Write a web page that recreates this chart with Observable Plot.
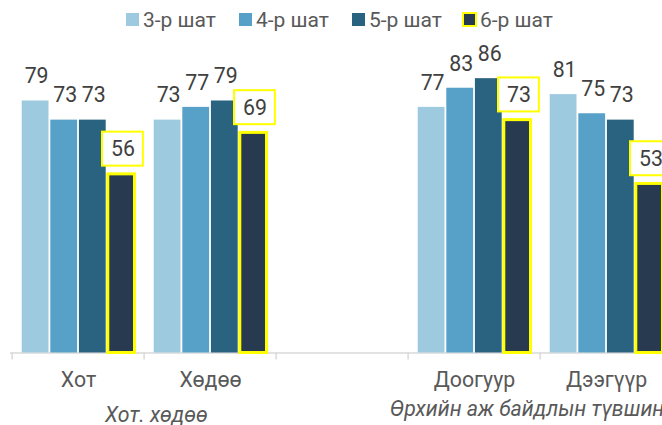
<!DOCTYPE html>
<html>
<head>
<meta charset="utf-8">
<script src="https://cdn.jsdelivr.net/npm/d3@7"></script>
<script src="https://cdn.jsdelivr.net/npm/@observablehq/plot@0.6"></script>
<style>
  html, body { margin: 0; padding: 0; background: #fff; }
  body { width: 662px; height: 425px; overflow: hidden; font-family: Roboto, "Noto Sans", sans-serif; }
  #legend { position: relative; height: 34px; width: 662px; }
  #legend .item { position: absolute; top: 6px; height: 27px; display: flex; align-items: center; font-size: 21px; color: #595959; white-space: nowrap; }
  #legend .sw { display: inline-block; width: 13px; height: 13px; margin-right: 4px; box-sizing: border-box; }
  #chart svg { display: block; }
</style>
</head>
<body>
<div id="legend"></div>
<div id="chart"></div>
<script>
// ---- data ----
const categories = ["Хот", "Хөдөө", "", "Доогуур", "Дээгүүр"];
const seriesNames = ["3-р шат", "4-р шат", "5-р шат", "6-р шат"];
const values3 = [79, 73, null, 77, 81];
const values4 = [73, 77, null, 83, 75];
const values5 = [73, 79, null, 86, 73];
const values6 = [56, 69, null, 73, 53];
const groupLabels = ["Хот. хөдөө", "Өрхийн аж байдлын түвшин"];
const groupFirstCategory = ["Хот", "Доогуур"];

// ---- styles ----
const colors = ["#9ecae0", "#57a1c9", "#2a6380", "#283a50"];
const highlight = "#ffff00";
const textGrey = "#595959";
const labelGrey = "#404040";
const axisGrey = "#d9d9d9";
const FS = 21.3;

const seriesValues = [values3, values4, values5, values6];
const rows = [];
seriesValues.forEach((vals, j) => vals.forEach((v, i) => {
  if (v != null) rows.push({category: categories[i], series: seriesNames[j], value: v});
}));
const bySeries = j => rows.filter(d => d.series === seriesNames[j]);

// ---- legend ----
const legendLefts = [126, 239, 352, 462];
const legend = document.getElementById("legend");
seriesNames.forEach((s, j) => {
  const item = document.createElement("span");
  item.className = "item";
  item.style.left = legendLefts[j] + "px";
  const sw = document.createElement("span");
  sw.className = "sw";
  sw.style.background = colors[j];
  if (j === 3) {
    sw.style.width = "15px"; sw.style.height = "15px";
    sw.style.border = "2.5px solid " + highlight;
    sw.style.marginRight = "3px";
  }
  item.appendChild(sw);
  item.appendChild(document.createTextNode(s));
  legend.appendChild(item);
});

// ---- chart ----
const BAND = 132.8, PAD = 9.2, W = 28.6;
const H = 391;
const baseY = 318.5;

const marks = [
  Plot.ruleY([0], {stroke: axisGrey, strokeWidth: 1.5}),
  Plot.axisX({tickSize: 7, tickFormat: () => "", label: null, dx: -BAND / 2, stroke: axisGrey, strokeWidth: 1.5}),
  Plot.axisX({tickSize: 0, tickPadding: 18.5, label: null, fontSize: FS, fill: textGrey})
];

for (let j = 0; j < 3; j++) {
  marks.push(Plot.barY(bySeries(j), {
    x: "category", y: "value", fill: colors[j],
    insetLeft: PAD + W * j + 0.5,
    insetRight: BAND - PAD - W * (j + 1) + 0.5
  }));
}
// 6-р шат bar with yellow outline
marks.push(Plot.barY(bySeries(3), {
  x: "category", y: "value", fill: colors[3],
  stroke: highlight, strokeWidth: 3,
  insetLeft: PAD + W * 3 + 0.8,
  insetRight: PAD + 0.3
}));
// label boxes for 6-р шат
marks.push(Plot.barY(bySeries(3), {
  x: "category", y1: "value", y2: "value",
  insetTop: -42.2, insetBottom: 8.2,
  insetLeft: 90, insetRight: 1.1,
  fill: "white", stroke: highlight, strokeWidth: 2
}));
// value labels
for (let j = 0; j < 3; j++) {
  marks.push(Plot.text(bySeries(j), {
    x: "category", y: "value", text: d => String(d.value),
    dx: -BAND / 2 + PAD + W * j + W / 2 + 1, dy: -24.5,
    fill: labelGrey, fontSize: FS
  }));
}
marks.push(Plot.text(bySeries(3), {
  x: "category", y: "value", text: d => String(d.value),
  dx: -BAND / 2 + 90 + (BAND - 90 - 1.1) / 2, dy: -25.2,
  fill: labelGrey, fontSize: FS
}));
// group labels
marks.push(Plot.text([groupLabels[0]], {
  x: () => groupFirstCategory[0], text: d => d, frameAnchor: "bottom",
  textAnchor: "start", dx: -BAND / 2 + 93, dy: 69,
  fill: textGrey, fontSize: FS, fontStyle: "italic"
}));
marks.push(Plot.text([groupLabels[1]], {
  x: () => groupFirstCategory[1], text: d => d, frameAnchor: "bottom",
  textAnchor: "start", dx: -BAND / 2 - 18, dy: 62.5,
  fill: textGrey, fontSize: FS, fontStyle: "italic"
}));

const chart = Plot.plot({
  width: 662,
  height: H,
  marginLeft: 10,
  marginRight: 0,
  marginTop: 0,
  marginBottom: H - baseY,
  x: {type: "band", domain: categories, range: [10, 10 + BAND * 5], padding: 0, axis: null},
  y: {domain: [0, 100], range: [baseY, -0.5], axis: null},
  style: {fontFamily: "Roboto, 'Noto Sans', sans-serif", fontSize: FS + "px", background: "white", overflow: "hidden", color: textGrey},
  marks
});
document.getElementById("chart").appendChild(chart);
</script>
</body>
</html>
